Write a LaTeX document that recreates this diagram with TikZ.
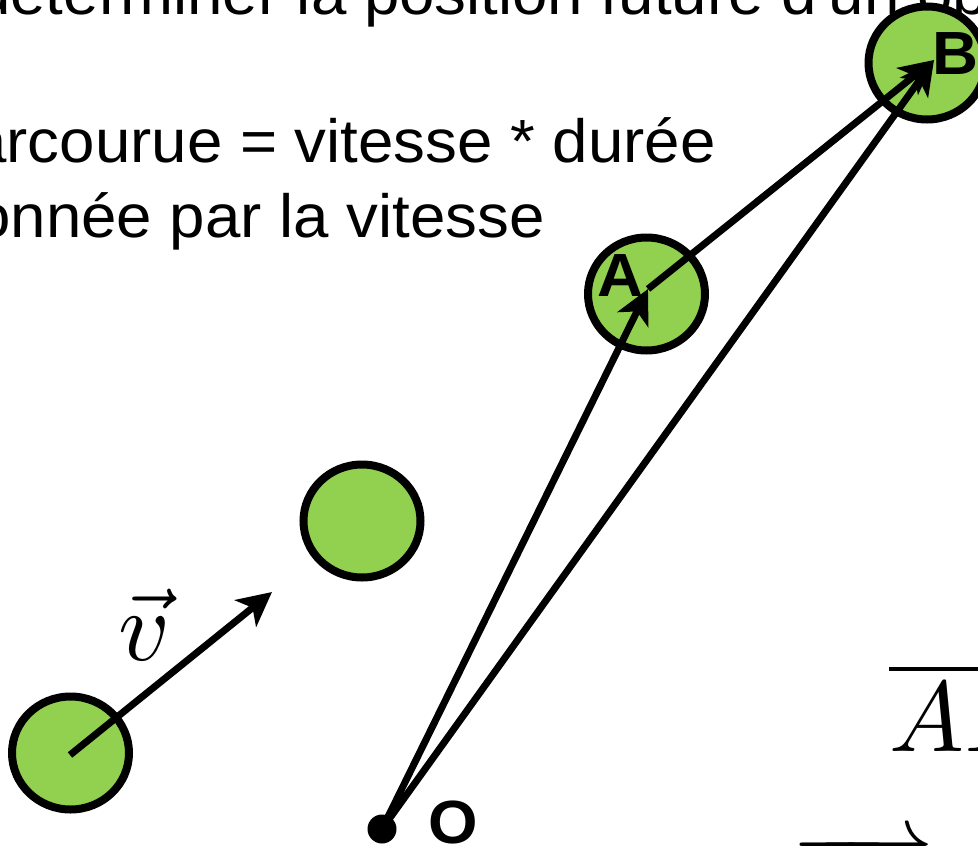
\documentclass[tikz,border=0pt]{standalone}
\usepackage{amsmath}
\usepackage{graphicx}
\usepackage{fontspec}
\setmainfont{Liberation Sans}
\newfontfamily\slidefont[FakeStretch=1.043]{Liberation Sans}
\usetikzlibrary{arrows.meta,shapes.geometric}
\definecolor{ballgreen}{RGB}{146,208,80}
\tikzset{
  ball/.style={ellipse, draw=black, fill=ballgreen, line width=8pt,
    minimum width=117pt, minimum height=113pt, inner sep=0pt},
  vecline/.style={line width=7pt, line cap=butt,
    -{Stealth[length=34pt,width=34pt,inset=9pt]}},
  slidetext/.style={font=\slidefont\fontsize{61}{75}\selectfont, inner sep=0pt},
  ptlabel/.style={font=\slidefont\fontsize{61}{61}\selectfont\bfseries, inner sep=0pt},
  mathlabel/.style={inner sep=0pt},
}
\begin{document}
\begin{tikzpicture}[x=1pt,y=-1pt]
\useasboundingbox (0,0) rectangle (978,846);
\clip (0,0) rectangle (978,846);
% slide text
\node[slidetext, anchor=base west] (t0) at (-25,14) {déterminer la position future d'un objet};
\node[slidetext, anchor=base east] (t1) at (716,162) {parcourue = vitesse * durée};
\node[slidetext, anchor=base east] (t2) at (545,237) {donnée par la vitesse};
% balls
\node[ball] (c1) at (70.5,753) {};
\node[ball] (c2) at (362,521) {};
\node[ball] (cA) at (646.5,294) {};
\node[ball] (cB) at (927,63) {};
% points
\coordinate (vstart) at (70,755);
\coordinate (vtip) at (272,592);
\coordinate (Atip) at (648,289);
\coordinate (Btip) at (934,60);
\fill (382,829) circle (14.5pt);
\coordinate (O) at (382,829);
% arrows
\draw[vecline] (vstart) -- (vtip);
\draw[vecline] (O) -- (Atip);
\draw[vecline] (O) -- (Btip);
\draw[vecline] (Atip) -- (Btip);
% labels
\node[ptlabel] (lA) at (620,276) {A};
\node[ptlabel] (lB) at (955,54) {B};
\node[ptlabel] (lO) at (453,822) {O};
\node[mathlabel, anchor=base west] (lv) at (118,660) {\scalebox{10}{$\vec{v}$}};
\node[mathlabel, anchor=base west] (lAB) at (889,751) {\scalebox{10}{$\overline{AB}$}};
\node[mathlabel, anchor=base west] (lAB2) at (792,930) {\scalebox{9.1}{$\overrightarrow{AB}$}};
\end{tikzpicture}
\end{document}
